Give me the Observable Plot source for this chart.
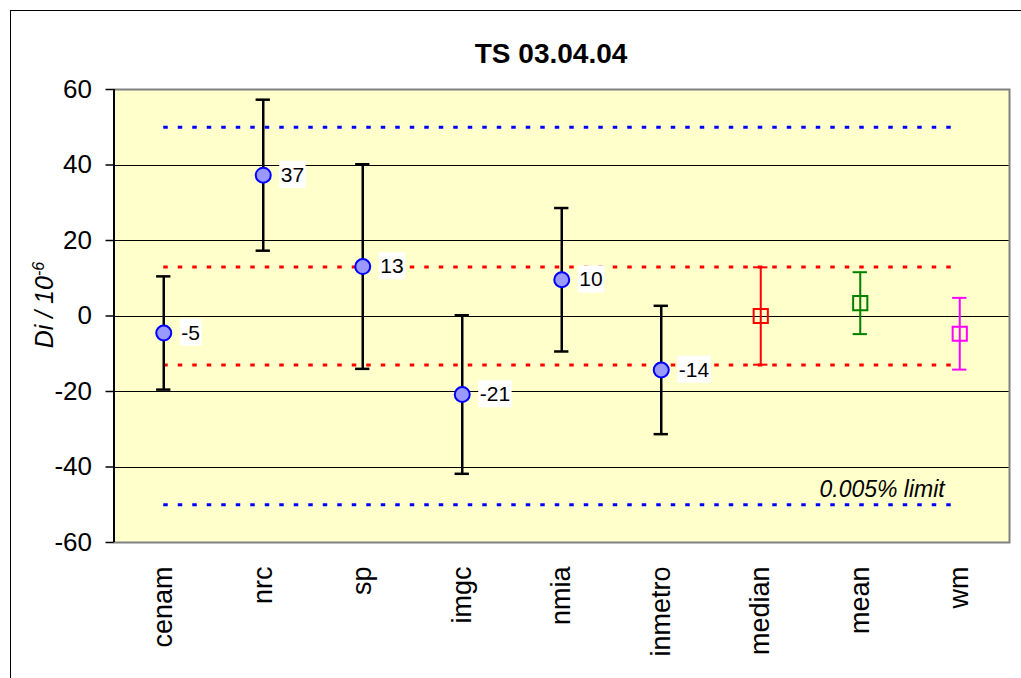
<!DOCTYPE html>
<html><head><meta charset="utf-8">
<script src="https://cdn.jsdelivr.net/npm/d3@7"></script>
<script src="https://cdn.jsdelivr.net/npm/@observablehq/plot@0.6"></script>
<style>
html,body{margin:0;padding:0;background:#fff;overflow:hidden;}
#wrap{position:relative;width:1021px;height:678px;overflow:hidden;}
#border{position:absolute;left:10px;top:9.5px;width:1100px;height:800px;border:1.5px solid #000;box-sizing:border-box;}
#chart{position:absolute;left:0;top:0;}
</style></head><body>
<div id="wrap"><div id="border"></div><div id="chart"></div></div>
<script>
// ---- data ----
const title = "TS 03.04.04";
const categories = ["cenam","nrc","sp","imgc","nmia","inmetro","median","mean","wm"];
const values = [-4.5, 37.3, 13.1, -20.8, 9.6, -14.3, 0.0, 3.4, -4.7];
const uncertainties = [15.0, 20.0, 27.1, 21.0, 19.0, 17.0, 12.9, 8.2, 9.5];
const pointLabels = ["-5","37","13","-21","10","-14"];
const participantCount = 6;
const limitLines = [50, -50];
const agreementLines = [13, -13];
const limitText = "0.005% limit";
const yTicks = [-60, -40, -20, 0, 20, 40, 60];
const gridLines = [-40, -20, 0, 20, 40];
const yLabel = "Di / 10";
const yLabelExp = "-6";

// ---- styles ----
const font = "'Liberation Sans', Arial, Helvetica, sans-serif";
const seriesColor = {lab: "#000000", median: "#FF0000", mean: "#008000", wm: "#FF00FF"};
const capHalf = 0.072;

const rows = categories.map((name, i) => ({
  i, name, v: values[i], u: uncertainties[i],
  lo: values[i] - uncertainties[i], hi: values[i] + uncertainties[i],
  kind: i < participantCount ? "lab" : name
}));
const labs = rows.filter(d => d.kind === "lab");
const stats = rows.filter(d => d.kind !== "lab");
const xDomain = [-0.5, categories.length - 0.5];
const lastIdx = categories.length - 1;

const chart = Plot.plot({
  width: 1021, height: 678,
  marginLeft: 113.5, marginRight: 12, marginTop: 89, marginBottom: 136,
  style: {fontFamily: font, background: "transparent", color: "#000", overflow: "visible"},
  x: {type: "linear", domain: xDomain},
  y: {type: "linear", domain: [-60, 60]},
  color: {type: "identity"},
  marks: [
    Plot.frame({fill: "#FFFFCC"}),
    Plot.ruleY(gridLines, {stroke: "#000", strokeWidth: 1, shapeRendering: "crispEdges"}),
    Plot.ruleY(limitLines, {x1: () => 0, x2: () => lastIdx, stroke: "#0000FF", strokeWidth: 3, strokeDasharray: "4.5,10"}),
    Plot.ruleY(agreementLines, {x1: () => 0, x2: () => lastIdx, stroke: "#FF0000", strokeWidth: 3, strokeDasharray: "4.5,10"}),
    Plot.frame({stroke: "#808080", strokeWidth: 2}),
    Plot.ruleX([xDomain[0]], {stroke: "#000", strokeWidth: 2}),
    // error bars
    Plot.ruleX(labs, {x: "i", y1: "lo", y2: "hi", stroke: "#000", strokeWidth: 2.5}),
    Plot.ruleY(labs, {y: "hi", x1: d => d.i - capHalf, x2: d => d.i + capHalf, stroke: "#000", strokeWidth: 2.5}),
    Plot.ruleY(labs, {y: "lo", x1: d => d.i - capHalf, x2: d => d.i + capHalf, stroke: "#000", strokeWidth: 2.5}),
    Plot.ruleX(stats, {x: "i", y1: "lo", y2: "hi", stroke: d => seriesColor[d.kind], strokeWidth: 2}),
    Plot.ruleY(stats, {y: "hi", x1: d => d.i - capHalf, x2: d => d.i + capHalf, stroke: d => seriesColor[d.kind], strokeWidth: 2}),
    Plot.ruleY(stats, {y: "lo", x1: d => d.i - capHalf, x2: d => d.i + capHalf, stroke: d => seriesColor[d.kind], strokeWidth: 2}),
    // markers
    Plot.dot(labs, {x: "i", y: "v", r: 7.5, fill: "#9999FF", stroke: "#0000FF", strokeWidth: 2}),
    Plot.dot(stats, {x: "i", y: "v", symbol: "square", r: 8, fill: "none", stroke: d => seriesColor[d.kind], strokeWidth: 2}),
    // value labels
    Plot.text(labs, {x: "i", y: "v", text: (d, i) => pointLabels[i], dx: 17.5, textAnchor: "start", fontSize: 21, fill: "#000"}),
    // limit text
    Plot.text([limitText], {x: () => lastIdx, y: () => limitLines[1], dx: -15, dy: -7.5, textAnchor: "end", lineAnchor: "bottom", fontSize: 23, fontStyle: "italic", fill: "#000"}),
    // title
    Plot.text([title], {frameAnchor: "top", dx: -10.7, dy: -26.3, lineAnchor: "bottom", fontSize: 28, fontWeight: "bold", fill: "#000"}),
    // y label
    Plot.text([yLabel], {frameAnchor: "left", rotate: -90, textAnchor: "middle", lineAnchor: "middle", dx: -69.5, dy: -11, fontSize: 25, fontStyle: "italic", fill: "#000"}),
    // axes
    Plot.axisY({ticks: yTicks, tickFormat: d => String(d), tickSize: 8, tickPadding: 14, fontSize: 26, label: null, stroke: "#000", strokeWidth: 1.5}),
    Plot.axisX({ticks: d3.range(categories.length), tickFormat: i => categories[i], tickSize: 0, tickRotate: -90, tickPadding: 24, fontSize: 27, label: null})
  ]
});

document.getElementById("chart").append(chart);
const svg = chart.tagName.toLowerCase() === "svg" ? chart : chart.querySelector("svg");
const NS = "http://www.w3.org/2000/svg";
const labelSet = new Set(pointLabels);
Array.from(svg.querySelectorAll("text")).forEach(t => {
  const txt = t.textContent;
  if (labelSet.has(txt)) {
    const b = t.getBBox();
    const r = document.createElementNS(NS, "rect");
    r.setAttribute("x", b.x - 1.5);
    r.setAttribute("y", b.y - 2);
    r.setAttribute("width", b.width + 3);
    r.setAttribute("height", b.height + 4);
    r.setAttribute("fill", "#FFFFFF");
    if (t.getAttribute("transform")) r.setAttribute("transform", t.getAttribute("transform"));
    t.parentNode.insertBefore(r, t);
  } else if (txt === yLabel) {
    const ts = document.createElementNS(NS, "tspan");
    ts.setAttribute("baseline-shift", "super");
    ts.setAttribute("font-size", "65%");
    ts.textContent = yLabelExp;
    t.append(ts);
  }
});
</script>
</body></html>
